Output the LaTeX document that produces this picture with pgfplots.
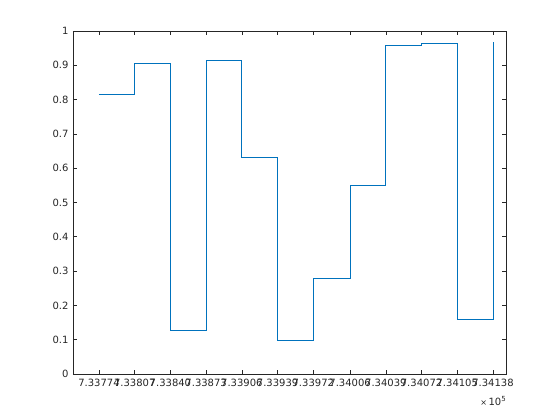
\documentclass[border=0pt]{standalone}
\usepackage{fontspec}
\setmainfont{DejaVu Sans}
\usepackage{pgfplots}
\pgfplotsset{compat=1.18}
\definecolor{mblue}{rgb}{0,0.447,0.741}
\definecolor{mgray}{rgb}{0.15,0.15,0.15}
\begin{document}
\begin{tikzpicture}
\useasboundingbox (-73pt,-46pt) rectangle (487pt,374pt);
\begin{axis}[
  at={(0pt,0pt)}, anchor=south west,
  scale only axis, width=433pt, height=343pt,
  xmin=733750, xmax=734150, ymin=0, ymax=1,
  xtick={733774,733807,733840,733873,733906,733939,733972,734006,734039,734072,734105,734138},
  xticklabels={7.33774,7.33807,7.33840,7.33873,7.33906,7.33939,7.33972,7.34006,7.34039,7.34072,7.34105,7.34138},
  scaled x ticks=false,
  ytick={0,0.1,0.2,0.3,0.4,0.5,0.6,0.7,0.8,0.9,1},
  yticklabels={0,0.1,0.2,0.3,0.4,0.5,0.6,0.7,0.8,0.9,1},
  tick align=inside, xtick pos=both, ytick pos=both,
  major tick length=4.3pt,
  axis line style={mgray, line width=0.6pt},
  tick style={mgray, line width=0.6pt},
  ticklabel style={font=\fontsize{10}{12}\selectfont, text=mgray},
  xticklabel style={yshift=-2pt},
  yticklabel style={xshift=-1pt},
  clip=false,
]
\addplot[const plot, color=mblue, line width=0.8pt] coordinates {
(733774,0.8155) (733807,0.906) (733840,0.1273) (733873,0.9145) (733906,0.6327) (733939,0.098) (733972,0.279) (734006,0.549) (734039,0.958) (734072,0.964) (734105,0.160) (734138,0.968)
};
\node[anchor=north east, inner sep=0pt, text=mgray] at ([xshift=0pt,yshift=-22pt]rel axis cs:1,0) {{\fontsize{8}{10}\selectfont ×}\,{\fontsize{10}{12}\selectfont 10}\raisebox{3.9pt}{\fontsize{7}{8}\selectfont 5}};
\end{axis}
\end{tikzpicture}
\end{document}
